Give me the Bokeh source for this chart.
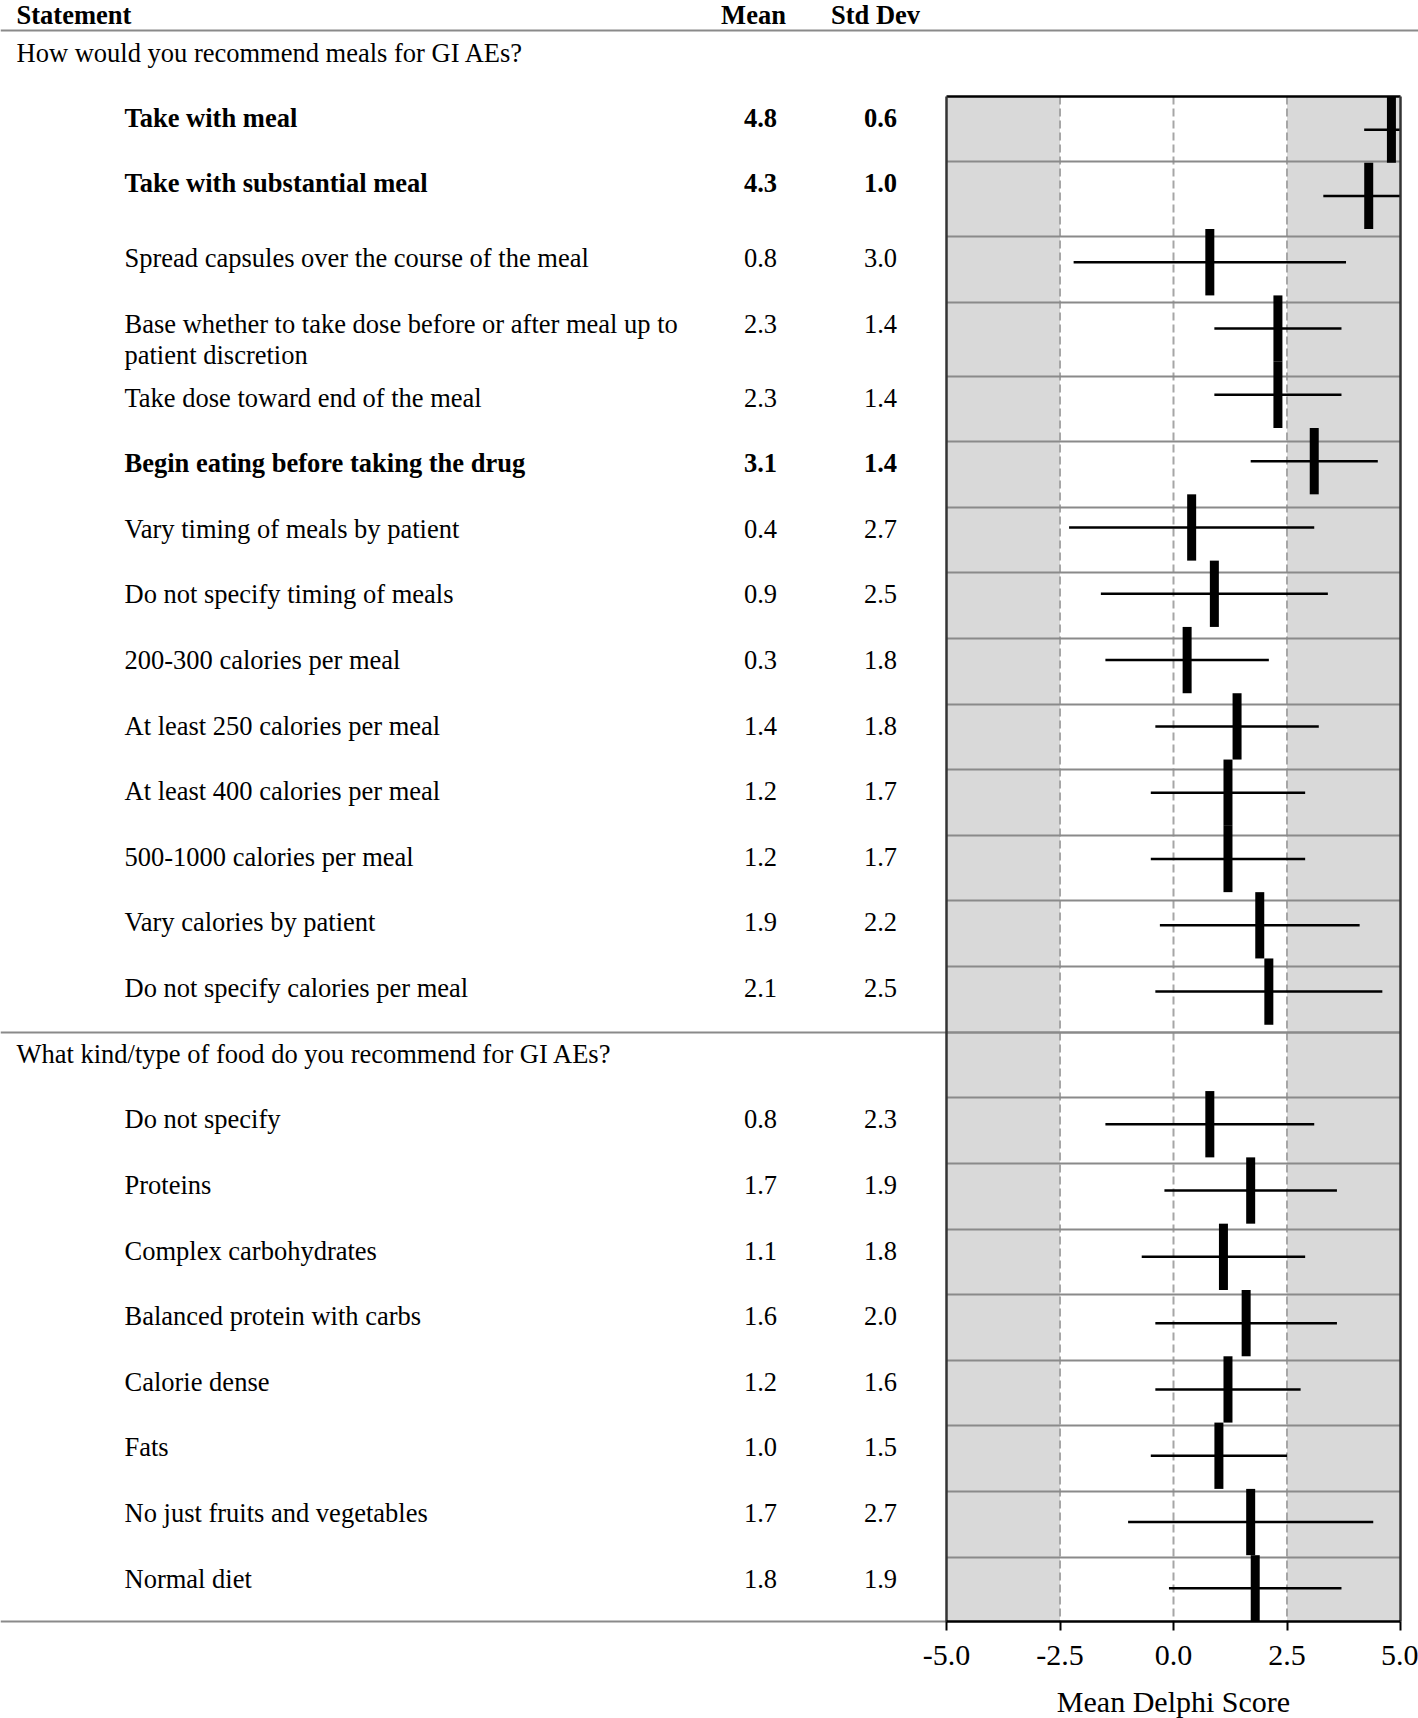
import numpy as np
from bokeh.plotting import figure
from bokeh.models import Range1d, LinearAxis, FixedTicker
from bokeh.embed import file_html
from bokeh.resources import INLINE
from bokeh.core.properties import value

# ---------------- data ----------------
col_headers = ["Statement", "Mean", "Std Dev"]

q1_title = "How would you recommend meals for GI AEs?"
q1_statements = [
    "Take with meal",
    "Take with substantial meal",
    "Spread capsules over the course of the meal",
    "Base whether to take dose before or after meal up to\npatient discretion",
    "Take dose toward end of the meal",
    "Begin eating before taking the drug",
    "Vary timing of meals by patient",
    "Do not specify timing of meals",
    "200-300 calories per meal",
    "At least 250 calories per meal",
    "At least 400 calories per meal",
    "500-1000 calories per meal",
    "Vary calories by patient",
    "Do not specify calories per meal",
]
q1_means = [4.8, 4.3, 0.8, 2.3, 2.3, 3.1, 0.4, 0.9, 0.3, 1.4, 1.2, 1.2, 1.9, 2.1]
q1_sds = [0.6, 1.0, 3.0, 1.4, 1.4, 1.4, 2.7, 2.5, 1.8, 1.8, 1.7, 1.7, 2.2, 2.5]
q1_bold = [True, True, False, False, False, True, False, False, False, False, False, False, False, False]

q2_title = "What kind/type of food do you recommend for GI AEs?"
q2_statements = [
    "Do not specify",
    "Proteins",
    "Complex carbohydrates",
    "Balanced protein with carbs",
    "Calorie dense",
    "Fats",
    "No just fruits and vegetables",
    "Normal diet",
]
q2_means = [0.8, 1.7, 1.1, 1.6, 1.2, 1.0, 1.7, 1.8]
q2_sds = [2.3, 1.9, 1.8, 2.0, 1.6, 1.5, 2.7, 1.9]
q2_bold = [False] * 8

x_ticks = [-5.0, -2.5, 0.0, 2.5, 5.0]
x_tick_labels = ["-5.0", "-2.5", "0.0", "2.5", "5.0"]
x_label = "Mean Delphi Score"
shaded_zones = [(-5.0, -2.5), (2.5, 5.0)]
dashed_refs = [-2.5, 0.0, 2.5]

# ---------------- layout (canvas pixel positions) ----------------
W, H = 1418, 1718
FX0, FX1 = 0, 1418          # frame x extent (whole canvas)
FY0, FY1 = 0, 1718          # frame y extent (whole canvas)
BOX_X0, BOX_X1 = 946, 1400  # chart box x extent
BOX_Y0, BOX_Y1 = 96, 1621   # chart box y extent
HEADER_LINE_Y = 30
ROW_TOPS = [96, 161, 236, 302, 376, 441, 507, 572, 638, 704, 769, 835, 900, 966,
            1032, 1097, 1163, 1229, 1294, 1360, 1425, 1491, 1557]
BOTTOM_LINE_Y = 1621
X_SECTION, X_ITEM, X_MEAN, X_SD = 16, 124, 760, 880
X_HMEAN, X_HSD = 753, 875
HEADER_TEXT_Y = 14
SEC1_TEXT_Y = 52
ROW_OFF = 21.5
LINE_STEP = 31
XLABEL_Y = 1700.5

FONT = value("Liberation Serif")
FS = "26.5px"

# derived
n1, n2 = len(q1_statements), len(q2_statements)
n_slots = n1 + 1 + n2
slots = list(range(n1)) + list(range(n1 + 1, n1 + 1 + n2))
means = np.array(q1_means + q2_means)
sds = np.array(q1_sds + q2_sds)
statements = q1_statements + q2_statements
bolds = q1_bold + q2_bold

ppu = (BOX_X1 - BOX_X0) / (x_ticks[-1] - x_ticks[0])
score_start = x_ticks[0] - (BOX_X0 - FX0) / ppu
score_end = x_ticks[-1] + (FX1 - BOX_X1) / ppu
slot_h = (BOX_Y1 - BOX_Y0) / n_slots
slot_top = -0.5 - (BOX_Y0 - FY0) / slot_h
slot_bottom = n_slots - 0.5 + (FY1 - BOX_Y1) / slot_h

p = figure(width=W, height=H,
           x_range=Range1d(score_start, score_end),
           y_range=Range1d(slot_bottom, slot_top),
           x_axis_type=None, y_axis_type=None,
           output_backend="svg", toolbar_location=None,
           min_border_left=0, min_border_right=0, min_border_top=0,
           min_border_bottom=0)
p.extra_x_ranges = {"px": Range1d(FX0, FX1)}
p.extra_y_ranges = {"py": Range1d(FY1, FY0)}
p.outline_line_color = None
p.background_fill_color = "white"
p.border_fill_color = "white"

top_slot, bot_slot = -0.5, n_slots - 0.5

# shaded zones
for a, b in shaded_zones:
    p.quad(left=a, right=b, top=top_slot, bottom=bot_slot,
           fill_color="#d9d9d9", line_color=None)

# dashed reference lines
p.segment(x0=dashed_refs, x1=dashed_refs, y0=[top_slot] * 3, y1=[bot_slot] * 3,
          line_color="#a6a6a6", line_width=2, line_dash="8 4")

# row separators inside chart box (table row borders)
sep_y = ROW_TOPS[1:]
p.segment(x0=[x_ticks[0]] * len(sep_y), x1=[x_ticks[-1]] * len(sep_y),
          y0=sep_y, y1=sep_y, y_range_name="py",
          line_color="#8a8a8a", line_width=2)

# full-width table lines
p.segment(x0=[FX0, FX0, FX0], x1=[FX1, BOX_X1, BOX_X0],
          y0=[HEADER_LINE_Y, ROW_TOPS[n1], BOTTOM_LINE_Y],
          y1=[HEADER_LINE_Y, ROW_TOPS[n1], BOTTOM_LINE_Y],
          x_range_name="px", y_range_name="py",
          line_color="#8a8a8a", line_width=2)

# error bars (mean +/- sd), clipped to the box
lo = np.clip(means - sds, x_ticks[0], x_ticks[-1])
hi = np.clip(means + sds, x_ticks[0], x_ticks[-1])
p.segment(x0=lo, x1=hi, y0=slots, y1=slots, line_color="black", line_width=2.5)

# mean bars
p.rect(x=means, y=slots, width=9, width_units="screen", height=1.0,
       fill_color="black", line_color=None)

# box border
p.segment(x0=[x_ticks[0]], x1=[x_ticks[-1]], y0=[top_slot], y1=[top_slot],
          line_color="black", line_width=2.5)
p.segment(x0=[x_ticks[0], x_ticks[-1]], x1=[x_ticks[0], x_ticks[-1]],
          y0=[top_slot, top_slot], y1=[bot_slot, bot_slot],
          line_color="#333333", line_width=2.5)

# ---------------- table text ----------------
def put(xs, ys, texts, bold, align="left", size=FS, xr="px"):
    if not texts:
        return
    p.text(x=xs, y=ys, text=texts, x_range_name=xr, y_range_name="py",
           text_font=FONT, text_font_size=size,
           text_font_style="bold" if bold else "normal",
           text_align=align, text_baseline="alphabetic", text_color="black")

# headers
put([X_SECTION], [HEADER_TEXT_Y], [col_headers[0]], True)
put([X_HMEAN, X_HSD], [HEADER_TEXT_Y] * 2, col_headers[1:], True, "center")

# section titles
put([X_SECTION, X_SECTION], [SEC1_TEXT_Y, ROW_TOPS[n1] + ROW_OFF],
    [q1_title, q2_title], False)

for bold in (True, False):
    lx, ly, lt = [], [], []
    vx, vy, vt = [], [], []
    for s, m, sd, b, slot in zip(statements, means, sds, bolds, slots):
        if b != bold:
            continue
        base = ROW_TOPS[slot] + ROW_OFF
        lines = s.split("\n")
        if len(lines) > 1:
            base -= 0.5
        for k, ln in enumerate(lines):
            lx.append(X_ITEM); ly.append(base + k * LINE_STEP); lt.append(ln)
        vx += [X_MEAN, X_SD]
        vy += [base, base]
        vt += [f"{m:.1f}", f"{sd:.1f}"]
    put(lx, ly, lt, bold)
    put(vx, vy, vt, bold, "center")

# ---------------- axis (pinned to the bottom of the chart box) ----------------
ax = LinearAxis(ticker=FixedTicker(ticks=x_ticks),
                major_label_overrides={t: l for t, l in zip(x_ticks, x_tick_labels)},
                bounds=(x_ticks[0], x_ticks[-1]),
                fixed_location=bot_slot)
ax.axis_line_color = "black"
ax.axis_line_width = 2.5
ax.major_tick_line_color = "black"
ax.major_tick_line_width = 2
ax.major_tick_out = 9
ax.major_tick_in = 0
ax.minor_tick_line_color = None
ax.major_label_text_font = "Liberation Serif"
ax.major_label_text_font_size = "30px"
ax.major_label_text_color = "black"
ax.major_label_standoff = 15
p.add_layout(ax, "below")

# axis title centred under the chart box (x = 0 on the score scale)
put([(x_ticks[0] + x_ticks[-1]) / 2], [XLABEL_Y], [x_label], False, "center",
    size="30px", xr="default")

open("out.html", "w").write(file_html(p, INLINE))
